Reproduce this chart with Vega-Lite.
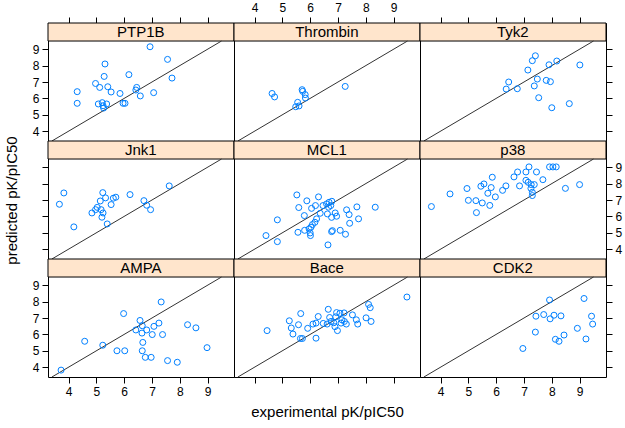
{
"$schema":"https://vega.github.io/schema/vega-lite/v6.json",
"background":"white",
"padding":{"left":3,"top":0,"right":3,"bottom":3},
"config":{"font":"Liberation Sans","view":{"stroke":"black","strokeWidth":1},
"axis":{"domain":false,"grid":false,"tickColor":"black","tickSize":6,"labelFont":"Liberation Sans","labelFontSize":12,"labelColor":"black","labelPadding":3,"titleFont":"Liberation Sans","titleFontSize":15,"titleFontWeight":"normal","titleColor":"black","labelFlush":false}},
"datasets":{"pts":[
{"panel":"PTP1B","exp":6.93,"pred":9.15},{"panel":"PTP1B","exp":7.56,"pred":8.38},{"panel":"PTP1B","exp":5.31,"pred":8.10},{"panel":"PTP1B","exp":7.72,"pred":7.24},{"panel":"PTP1B","exp":5.28,"pred":7.34},{"panel":"PTP1B","exp":6.17,"pred":7.45},{"panel":"PTP1B","exp":4.97,"pred":6.91},{"panel":"PTP1B","exp":5.12,"pred":6.67},{"panel":"PTP1B","exp":5.41,"pred":6.71},{"panel":"PTP1B","exp":5.53,"pred":6.39},{"panel":"PTP1B","exp":4.31,"pred":6.41},{"panel":"PTP1B","exp":5.85,"pred":6.30},{"panel":"PTP1B","exp":6.45,"pred":6.67},{"panel":"PTP1B","exp":6.42,"pred":6.51},{"panel":"PTP1B","exp":6.58,"pred":6.15},{"panel":"PTP1B","exp":7.06,"pred":6.35},{"panel":"PTP1B","exp":4.31,"pred":5.70},{"panel":"PTP1B","exp":5.07,"pred":5.66},{"panel":"PTP1B","exp":5.21,"pred":5.74},{"panel":"PTP1B","exp":5.37,"pred":5.66},{"panel":"PTP1B","exp":5.26,"pred":5.41},{"panel":"PTP1B","exp":5.96,"pred":5.70},{"panel":"PTP1B","exp":6.03,"pred":5.70},{"panel":"PTP1B","exp":5.24,"pred":5.55},
{"panel":"Thrombin","exp":4.63,"pred":6.30},{"panel":"Thrombin","exp":4.72,"pred":6.09},{"panel":"Thrombin","exp":5.71,"pred":6.53},{"panel":"Thrombin","exp":5.73,"pred":6.43},{"panel":"Thrombin","exp":5.82,"pred":6.23},{"panel":"Thrombin","exp":5.83,"pred":6.02},{"panel":"Thrombin","exp":5.55,"pred":5.76},{"panel":"Thrombin","exp":5.48,"pred":5.49},{"panel":"Thrombin","exp":5.60,"pred":5.54},{"panel":"Thrombin","exp":7.26,"pred":6.73},
{"panel":"Tyk2","exp":7.41,"pred":8.60},{"panel":"Tyk2","exp":7.30,"pred":8.30},{"panel":"Tyk2","exp":8.18,"pred":8.28},{"panel":"Tyk2","exp":7.90,"pred":8.05},{"panel":"Tyk2","exp":9.01,"pred":8.04},{"panel":"Tyk2","exp":7.14,"pred":7.73},{"panel":"Tyk2","exp":7.48,"pred":7.18},{"panel":"Tyk2","exp":7.80,"pred":7.10},{"panel":"Tyk2","exp":7.95,"pred":7.02},{"panel":"Tyk2","exp":6.45,"pred":7.00},{"panel":"Tyk2","exp":6.36,"pred":6.57},{"panel":"Tyk2","exp":6.76,"pred":6.59},{"panel":"Tyk2","exp":7.37,"pred":6.76},{"panel":"Tyk2","exp":7.53,"pred":6.04},{"panel":"Tyk2","exp":8.63,"pred":5.68},{"panel":"Tyk2","exp":8.00,"pred":5.43},
{"panel":"Jnk1","exp":7.62,"pred":7.86},{"panel":"Jnk1","exp":3.83,"pred":7.43},{"panel":"Jnk1","exp":3.67,"pred":6.74},{"panel":"Jnk1","exp":5.23,"pred":7.45},{"panel":"Jnk1","exp":5.33,"pred":7.13},{"panel":"Jnk1","exp":5.61,"pred":7.11},{"panel":"Jnk1","exp":5.70,"pred":7.17},{"panel":"Jnk1","exp":5.14,"pred":6.94},{"panel":"Jnk1","exp":6.21,"pred":7.33},{"panel":"Jnk1","exp":5.53,"pred":6.72},{"panel":"Jnk1","exp":5.03,"pred":6.55},{"panel":"Jnk1","exp":4.97,"pred":6.41},{"panel":"Jnk1","exp":4.84,"pred":6.21},{"panel":"Jnk1","exp":5.17,"pred":6.41},{"panel":"Jnk1","exp":5.24,"pred":6.21},{"panel":"Jnk1","exp":5.20,"pred":5.95},{"panel":"Jnk1","exp":5.39,"pred":5.54},{"panel":"Jnk1","exp":4.19,"pred":5.36},{"panel":"Jnk1","exp":6.71,"pred":6.96},{"panel":"Jnk1","exp":6.81,"pred":6.68},{"panel":"Jnk1","exp":6.95,"pred":6.41},
{"panel":"MCL1","exp":5.52,"pred":7.31},{"panel":"MCL1","exp":5.88,"pred":6.95},{"panel":"MCL1","exp":6.30,"pred":7.19},{"panel":"MCL1","exp":5.59,"pred":6.54},{"panel":"MCL1","exp":6.05,"pred":6.49},{"panel":"MCL1","exp":6.19,"pred":6.66},{"panel":"MCL1","exp":6.46,"pred":6.66},{"panel":"MCL1","exp":6.59,"pred":6.76},{"panel":"MCL1","exp":6.68,"pred":6.86},{"panel":"MCL1","exp":6.78,"pred":6.92},{"panel":"MCL1","exp":6.74,"pred":6.66},{"panel":"MCL1","exp":6.66,"pred":6.56},{"panel":"MCL1","exp":6.36,"pred":6.19},{"panel":"MCL1","exp":6.62,"pred":6.15},{"panel":"MCL1","exp":6.90,"pred":6.21},{"panel":"MCL1","exp":6.95,"pred":6.01},{"panel":"MCL1","exp":6.77,"pred":5.94},{"panel":"MCL1","exp":5.79,"pred":6.05},{"panel":"MCL1","exp":4.82,"pred":5.79},{"panel":"MCL1","exp":6.23,"pred":5.85},{"panel":"MCL1","exp":6.17,"pred":5.64},{"panel":"MCL1","exp":6.08,"pred":5.50},{"panel":"MCL1","exp":6.03,"pred":5.34},{"panel":"MCL1","exp":5.96,"pred":5.24},{"panel":"MCL1","exp":5.80,"pred":5.15},{"panel":"MCL1","exp":5.56,"pred":5.03},{"panel":"MCL1","exp":6.00,"pred":4.99},{"panel":"MCL1","exp":6.01,"pred":4.83},{"panel":"MCL1","exp":4.41,"pred":4.83},{"panel":"MCL1","exp":4.82,"pred":4.46},{"panel":"MCL1","exp":6.64,"pred":4.26},{"panel":"MCL1","exp":6.80,"pred":5.13},{"panel":"MCL1","exp":6.77,"pred":5.07},{"panel":"MCL1","exp":7.08,"pred":5.15},{"panel":"MCL1","exp":7.27,"pred":4.91},{"panel":"MCL1","exp":7.31,"pred":6.40},{"panel":"MCL1","exp":7.40,"pred":6.11},{"panel":"MCL1","exp":7.68,"pred":6.58},{"panel":"MCL1","exp":7.74,"pred":5.85},{"panel":"MCL1","exp":7.42,"pred":5.58},{"panel":"MCL1","exp":8.34,"pred":6.56},
{"panel":"p38","exp":3.67,"pred":6.60},{"panel":"p38","exp":4.34,"pred":7.37},{"panel":"p38","exp":4.95,"pred":7.70},{"panel":"p38","exp":5.00,"pred":6.98},{"panel":"p38","exp":5.27,"pred":6.96},{"panel":"p38","exp":5.29,"pred":6.23},{"panel":"p38","exp":5.50,"pred":6.82},{"panel":"p38","exp":5.77,"pred":6.67},{"panel":"p38","exp":5.45,"pred":7.84},{"panel":"p38","exp":5.56,"pred":7.98},{"panel":"p38","exp":5.82,"pred":7.76},{"panel":"p38","exp":5.86,"pred":8.39},{"panel":"p38","exp":5.70,"pred":7.41},{"panel":"p38","exp":5.97,"pred":7.19},{"panel":"p38","exp":6.23,"pred":7.59},{"panel":"p38","exp":6.35,"pred":7.86},{"panel":"p38","exp":6.64,"pred":8.41},{"panel":"p38","exp":6.77,"pred":8.71},{"panel":"p38","exp":6.84,"pred":7.86},{"panel":"p38","exp":7.07,"pred":8.71},{"panel":"p38","exp":7.18,"pred":9.02},{"panel":"p38","exp":7.07,"pred":8.20},{"panel":"p38","exp":7.15,"pred":8.08},{"panel":"p38","exp":7.26,"pred":7.94},{"panel":"p38","exp":7.37,"pred":7.94},{"panel":"p38","exp":7.25,"pred":7.71},{"panel":"p38","exp":7.30,"pred":7.47},{"panel":"p38","exp":7.30,"pred":7.27},{"panel":"p38","exp":7.45,"pred":8.71},{"panel":"p38","exp":7.68,"pred":8.24},{"panel":"p38","exp":7.92,"pred":9.02},{"panel":"p38","exp":8.04,"pred":9.02},{"panel":"p38","exp":8.16,"pred":9.02},{"panel":"p38","exp":8.49,"pred":7.71},{"panel":"p38","exp":9.00,"pred":7.94},
{"panel":"AMPA","exp":3.73,"pred":3.82},{"panel":"AMPA","exp":4.58,"pred":5.58},{"panel":"AMPA","exp":5.23,"pred":5.34},{"panel":"AMPA","exp":5.74,"pred":5.00},{"panel":"AMPA","exp":6.02,"pred":5.00},{"panel":"AMPA","exp":5.98,"pred":7.27},{"panel":"AMPA","exp":6.57,"pred":6.85},{"panel":"AMPA","exp":6.65,"pred":6.53},{"panel":"AMPA","exp":6.42,"pred":6.27},{"panel":"AMPA","exp":6.64,"pred":6.08},{"panel":"AMPA","exp":6.81,"pred":6.27},{"panel":"AMPA","exp":7.07,"pred":6.49},{"panel":"AMPA","exp":7.25,"pred":6.69},{"panel":"AMPA","exp":7.01,"pred":5.99},{"panel":"AMPA","exp":7.38,"pred":5.99},{"panel":"AMPA","exp":7.33,"pred":7.98},{"panel":"AMPA","exp":6.67,"pred":5.51},{"panel":"AMPA","exp":6.65,"pred":5.00},{"panel":"AMPA","exp":6.76,"pred":4.60},{"panel":"AMPA","exp":6.97,"pred":4.60},{"panel":"AMPA","exp":7.56,"pred":4.40},{"panel":"AMPA","exp":7.91,"pred":4.30},{"panel":"AMPA","exp":8.28,"pred":6.59},{"panel":"AMPA","exp":8.58,"pred":6.40},{"panel":"AMPA","exp":8.98,"pred":5.19},
{"panel":"Bace","exp":4.45,"pred":6.23},{"panel":"Bace","exp":5.25,"pred":6.83},{"panel":"Bace","exp":5.32,"pred":6.39},{"panel":"Bace","exp":5.38,"pred":6.02},{"panel":"Bace","exp":5.58,"pred":6.59},{"panel":"Bace","exp":5.66,"pred":7.27},{"panel":"Bace","exp":5.65,"pred":5.75},{"panel":"Bace","exp":5.72,"pred":5.75},{"panel":"Bace","exp":5.91,"pred":6.37},{"panel":"Bace","exp":6.10,"pred":6.63},{"panel":"Bace","exp":6.21,"pred":6.69},{"panel":"Bace","exp":6.29,"pred":7.09},{"panel":"Bace","exp":6.21,"pred":5.77},{"panel":"Bace","exp":6.47,"pred":6.67},{"panel":"Bace","exp":6.65,"pred":7.53},{"panel":"Bace","exp":6.61,"pred":6.63},{"panel":"Bace","exp":6.70,"pred":7.03},{"panel":"Bace","exp":6.75,"pred":6.79},{"panel":"Bace","exp":6.85,"pred":6.71},{"panel":"Bace","exp":6.89,"pred":6.47},{"panel":"Bace","exp":6.98,"pred":6.23},{"panel":"Bace","exp":6.95,"pred":7.33},{"panel":"Bace","exp":7.07,"pred":7.29},{"panel":"Bace","exp":6.92,"pred":7.07},{"panel":"Bace","exp":7.14,"pred":6.89},{"panel":"Bace","exp":7.22,"pred":7.31},{"panel":"Bace","exp":7.11,"pred":6.69},{"panel":"Bace","exp":7.23,"pred":6.79},{"panel":"Bace","exp":7.30,"pred":6.63},{"panel":"Bace","exp":7.52,"pred":7.19},{"panel":"Bace","exp":7.66,"pred":6.89},{"panel":"Bace","exp":7.71,"pred":6.63},{"panel":"Bace","exp":8.01,"pred":7.01},{"panel":"Bace","exp":8.10,"pred":7.83},{"panel":"Bace","exp":8.16,"pred":7.63},{"panel":"Bace","exp":8.19,"pred":6.79},{"panel":"Bace","exp":9.48,"pred":8.28},
{"panel":"CDK2","exp":7.92,"pred":8.10},{"panel":"CDK2","exp":9.16,"pred":8.19},{"panel":"CDK2","exp":7.43,"pred":7.11},{"panel":"CDK2","exp":7.71,"pred":7.21},{"panel":"CDK2","exp":7.94,"pred":6.95},{"panel":"CDK2","exp":8.08,"pred":7.17},{"panel":"CDK2","exp":8.33,"pred":7.13},{"panel":"CDK2","exp":9.43,"pred":7.11},{"panel":"CDK2","exp":9.47,"pred":6.63},{"panel":"CDK2","exp":7.41,"pred":6.14},{"panel":"CDK2","exp":8.92,"pred":6.37},{"panel":"CDK2","exp":8.44,"pred":5.96},{"panel":"CDK2","exp":8.13,"pred":5.70},{"panel":"CDK2","exp":8.26,"pred":5.58},{"panel":"CDK2","exp":9.23,"pred":5.72},{"panel":"CDK2","exp":6.96,"pred":5.14}
]},
"columns":3,"spacing":0,"bounds":"flush","align":"all",
"concat":[
{"width":186,"height":118,"data":{"values":[{"panel":"PTP1B"}]},"layer":[
{"mark":{"type":"rect","fill":"#ffe5cc","stroke":"black","strokeWidth":1},"encoding":{"x":{"datum":3.26,"type":"quantitative","scale":{"domain":[3.26,9.95],"nice":false,"zero":false},"axis":{"orient":"top","values":[4,5,6,7,8,9],"labels":false,"title":null}},"x2":{"datum":9.95},"y":{"datum":9.5,"type":"quantitative","scale":{"domain":[3.4,10.6],"nice":false,"zero":false},"axis":{"orient":"left","values":[4,5,6,7,8,9],"title":null}},"y2":{"datum":10.6}}},
{"mark":{"type":"text","fontSize":15,"color":"black","baseline":"middle","align":"center"},"encoding":{"x":{"datum":6.6,"type":"quantitative","scale":{"domain":[3.26,9.95],"nice":false,"zero":false},"axis":{"orient":"top","values":[4,5,6,7,8,9],"labels":false,"title":null}},"y":{"datum":10.05,"type":"quantitative","scale":{"domain":[3.4,10.6],"nice":false,"zero":false},"axis":{"orient":"left","values":[4,5,6,7,8,9],"title":null}},"text":{"field":"panel"}}},
{"mark":{"type":"rule","color":"#333333","strokeWidth":1},"encoding":{"x":{"datum":3.4,"type":"quantitative","scale":{"domain":[3.26,9.95],"nice":false,"zero":false},"axis":{"orient":"top","values":[4,5,6,7,8,9],"labels":false,"title":null}},"x2":{"datum":9.5},"y":{"datum":3.4,"type":"quantitative","scale":{"domain":[3.4,10.6],"nice":false,"zero":false},"axis":{"orient":"left","values":[4,5,6,7,8,9],"title":null}},"y2":{"datum":9.5}}},
{"data":{"name":"pts"},"transform":[{"filter":"datum.panel == 'PTP1B'"}],"mark":{"type":"point","shape":"circle","filled":false,"color":"#0080ff","size":36,"strokeWidth":1,"opacity":1},"encoding":{"x":{"field":"exp","type":"quantitative","scale":{"domain":[3.26,9.95],"nice":false,"zero":false},"axis":{"orient":"top","values":[4,5,6,7,8,9],"labels":false,"title":null}},"y":{"field":"pred","type":"quantitative","scale":{"domain":[3.4,10.6],"nice":false,"zero":false},"axis":{"orient":"left","values":[4,5,6,7,8,9],"title":null}}}}
]},
{"width":186,"height":118,"data":{"values":[{"panel":"Thrombin"}]},"layer":[
{"mark":{"type":"rect","fill":"#ffe5cc","stroke":"black","strokeWidth":1},"encoding":{"x":{"datum":3.26,"type":"quantitative","scale":{"domain":[3.26,9.95],"nice":false,"zero":false},"axis":{"orient":"top","values":[4,5,6,7,8,9],"title":null}},"x2":{"datum":9.95},"y":{"datum":9.5,"type":"quantitative","scale":{"domain":[3.4,10.6],"nice":false,"zero":false},"axis":null},"y2":{"datum":10.6}}},
{"mark":{"type":"text","fontSize":15,"color":"black","baseline":"middle","align":"center"},"encoding":{"x":{"datum":6.6,"type":"quantitative","scale":{"domain":[3.26,9.95],"nice":false,"zero":false},"axis":{"orient":"top","values":[4,5,6,7,8,9],"title":null}},"y":{"datum":10.05,"type":"quantitative","scale":{"domain":[3.4,10.6],"nice":false,"zero":false},"axis":null},"text":{"field":"panel"}}},
{"mark":{"type":"rule","color":"#333333","strokeWidth":1},"encoding":{"x":{"datum":3.4,"type":"quantitative","scale":{"domain":[3.26,9.95],"nice":false,"zero":false},"axis":{"orient":"top","values":[4,5,6,7,8,9],"title":null}},"x2":{"datum":9.5},"y":{"datum":3.4,"type":"quantitative","scale":{"domain":[3.4,10.6],"nice":false,"zero":false},"axis":null},"y2":{"datum":9.5}}},
{"data":{"name":"pts"},"transform":[{"filter":"datum.panel == 'Thrombin'"}],"mark":{"type":"point","shape":"circle","filled":false,"color":"#0080ff","size":36,"strokeWidth":1,"opacity":1},"encoding":{"x":{"field":"exp","type":"quantitative","scale":{"domain":[3.26,9.95],"nice":false,"zero":false},"axis":{"orient":"top","values":[4,5,6,7,8,9],"title":null}},"y":{"field":"pred","type":"quantitative","scale":{"domain":[3.4,10.6],"nice":false,"zero":false},"axis":null}}}
]},
{"width":186,"height":118,"data":{"values":[{"panel":"Tyk2"}]},"layer":[
{"mark":{"type":"rect","fill":"#ffe5cc","stroke":"black","strokeWidth":1},"encoding":{"x":{"datum":3.26,"type":"quantitative","scale":{"domain":[3.26,9.95],"nice":false,"zero":false},"axis":{"orient":"top","values":[4,5,6,7,8,9],"labels":false,"title":null}},"x2":{"datum":9.95},"y":{"datum":9.5,"type":"quantitative","scale":{"domain":[3.4,10.6],"nice":false,"zero":false},"axis":{"orient":"right","values":[4,5,6,7,8,9],"labels":false,"title":null}},"y2":{"datum":10.6}}},
{"mark":{"type":"text","fontSize":15,"color":"black","baseline":"middle","align":"center"},"encoding":{"x":{"datum":6.6,"type":"quantitative","scale":{"domain":[3.26,9.95],"nice":false,"zero":false},"axis":{"orient":"top","values":[4,5,6,7,8,9],"labels":false,"title":null}},"y":{"datum":10.05,"type":"quantitative","scale":{"domain":[3.4,10.6],"nice":false,"zero":false},"axis":{"orient":"right","values":[4,5,6,7,8,9],"labels":false,"title":null}},"text":{"field":"panel"}}},
{"mark":{"type":"rule","color":"#333333","strokeWidth":1},"encoding":{"x":{"datum":3.4,"type":"quantitative","scale":{"domain":[3.26,9.95],"nice":false,"zero":false},"axis":{"orient":"top","values":[4,5,6,7,8,9],"labels":false,"title":null}},"x2":{"datum":9.5},"y":{"datum":3.4,"type":"quantitative","scale":{"domain":[3.4,10.6],"nice":false,"zero":false},"axis":{"orient":"right","values":[4,5,6,7,8,9],"labels":false,"title":null}},"y2":{"datum":9.5}}},
{"data":{"name":"pts"},"transform":[{"filter":"datum.panel == 'Tyk2'"}],"mark":{"type":"point","shape":"circle","filled":false,"color":"#0080ff","size":36,"strokeWidth":1,"opacity":1},"encoding":{"x":{"field":"exp","type":"quantitative","scale":{"domain":[3.26,9.95],"nice":false,"zero":false},"axis":{"orient":"top","values":[4,5,6,7,8,9],"labels":false,"title":null}},"y":{"field":"pred","type":"quantitative","scale":{"domain":[3.4,10.6],"nice":false,"zero":false},"axis":{"orient":"right","values":[4,5,6,7,8,9],"labels":false,"title":null}}}}
]},
{"width":186,"height":118,"data":{"values":[{"panel":"Jnk1"}]},"layer":[
{"mark":{"type":"rect","fill":"#ffe5cc","stroke":"black","strokeWidth":1},"encoding":{"x":{"datum":3.26,"type":"quantitative","scale":{"domain":[3.26,9.95],"nice":false,"zero":false},"axis":null},"x2":{"datum":9.95},"y":{"datum":9.5,"type":"quantitative","scale":{"domain":[3.4,10.6],"nice":false,"zero":false},"axis":{"orient":"left","values":[4,5,6,7,8,9],"labels":false,"title":"predicted pK/pIC50","titlePadding":22}},"y2":{"datum":10.6}}},
{"mark":{"type":"text","fontSize":15,"color":"black","baseline":"middle","align":"center"},"encoding":{"x":{"datum":6.6,"type":"quantitative","scale":{"domain":[3.26,9.95],"nice":false,"zero":false},"axis":null},"y":{"datum":10.05,"type":"quantitative","scale":{"domain":[3.4,10.6],"nice":false,"zero":false},"axis":{"orient":"left","values":[4,5,6,7,8,9],"labels":false,"title":"predicted pK/pIC50","titlePadding":22}},"text":{"field":"panel"}}},
{"mark":{"type":"rule","color":"#333333","strokeWidth":1},"encoding":{"x":{"datum":3.4,"type":"quantitative","scale":{"domain":[3.26,9.95],"nice":false,"zero":false},"axis":null},"x2":{"datum":9.5},"y":{"datum":3.4,"type":"quantitative","scale":{"domain":[3.4,10.6],"nice":false,"zero":false},"axis":{"orient":"left","values":[4,5,6,7,8,9],"labels":false,"title":"predicted pK/pIC50","titlePadding":22}},"y2":{"datum":9.5}}},
{"data":{"name":"pts"},"transform":[{"filter":"datum.panel == 'Jnk1'"}],"mark":{"type":"point","shape":"circle","filled":false,"color":"#0080ff","size":36,"strokeWidth":1,"opacity":1},"encoding":{"x":{"field":"exp","type":"quantitative","scale":{"domain":[3.26,9.95],"nice":false,"zero":false},"axis":null},"y":{"field":"pred","type":"quantitative","scale":{"domain":[3.4,10.6],"nice":false,"zero":false},"axis":{"orient":"left","values":[4,5,6,7,8,9],"labels":false,"title":"predicted pK/pIC50","titlePadding":22}}}}
]},
{"width":186,"height":118,"data":{"values":[{"panel":"MCL1"}]},"layer":[
{"mark":{"type":"rect","fill":"#ffe5cc","stroke":"black","strokeWidth":1},"encoding":{"x":{"datum":3.26,"type":"quantitative","scale":{"domain":[3.26,9.95],"nice":false,"zero":false},"axis":null},"x2":{"datum":9.95},"y":{"datum":9.5,"type":"quantitative","scale":{"domain":[3.4,10.6],"nice":false,"zero":false},"axis":null},"y2":{"datum":10.6}}},
{"mark":{"type":"text","fontSize":15,"color":"black","baseline":"middle","align":"center"},"encoding":{"x":{"datum":6.6,"type":"quantitative","scale":{"domain":[3.26,9.95],"nice":false,"zero":false},"axis":null},"y":{"datum":10.05,"type":"quantitative","scale":{"domain":[3.4,10.6],"nice":false,"zero":false},"axis":null},"text":{"field":"panel"}}},
{"mark":{"type":"rule","color":"#333333","strokeWidth":1},"encoding":{"x":{"datum":3.4,"type":"quantitative","scale":{"domain":[3.26,9.95],"nice":false,"zero":false},"axis":null},"x2":{"datum":9.5},"y":{"datum":3.4,"type":"quantitative","scale":{"domain":[3.4,10.6],"nice":false,"zero":false},"axis":null},"y2":{"datum":9.5}}},
{"data":{"name":"pts"},"transform":[{"filter":"datum.panel == 'MCL1'"}],"mark":{"type":"point","shape":"circle","filled":false,"color":"#0080ff","size":36,"strokeWidth":1,"opacity":1},"encoding":{"x":{"field":"exp","type":"quantitative","scale":{"domain":[3.26,9.95],"nice":false,"zero":false},"axis":null},"y":{"field":"pred","type":"quantitative","scale":{"domain":[3.4,10.6],"nice":false,"zero":false},"axis":null}}}
]},
{"width":186,"height":118,"data":{"values":[{"panel":"p38"}]},"layer":[
{"mark":{"type":"rect","fill":"#ffe5cc","stroke":"black","strokeWidth":1},"encoding":{"x":{"datum":3.26,"type":"quantitative","scale":{"domain":[3.26,9.95],"nice":false,"zero":false},"axis":null},"x2":{"datum":9.95},"y":{"datum":9.5,"type":"quantitative","scale":{"domain":[3.4,10.6],"nice":false,"zero":false},"axis":{"orient":"right","values":[4,5,6,7,8,9],"title":null}},"y2":{"datum":10.6}}},
{"mark":{"type":"text","fontSize":15,"color":"black","baseline":"middle","align":"center"},"encoding":{"x":{"datum":6.6,"type":"quantitative","scale":{"domain":[3.26,9.95],"nice":false,"zero":false},"axis":null},"y":{"datum":10.05,"type":"quantitative","scale":{"domain":[3.4,10.6],"nice":false,"zero":false},"axis":{"orient":"right","values":[4,5,6,7,8,9],"title":null}},"text":{"field":"panel"}}},
{"mark":{"type":"rule","color":"#333333","strokeWidth":1},"encoding":{"x":{"datum":3.4,"type":"quantitative","scale":{"domain":[3.26,9.95],"nice":false,"zero":false},"axis":null},"x2":{"datum":9.5},"y":{"datum":3.4,"type":"quantitative","scale":{"domain":[3.4,10.6],"nice":false,"zero":false},"axis":{"orient":"right","values":[4,5,6,7,8,9],"title":null}},"y2":{"datum":9.5}}},
{"data":{"name":"pts"},"transform":[{"filter":"datum.panel == 'p38'"}],"mark":{"type":"point","shape":"circle","filled":false,"color":"#0080ff","size":36,"strokeWidth":1,"opacity":1},"encoding":{"x":{"field":"exp","type":"quantitative","scale":{"domain":[3.26,9.95],"nice":false,"zero":false},"axis":null},"y":{"field":"pred","type":"quantitative","scale":{"domain":[3.4,10.6],"nice":false,"zero":false},"axis":{"orient":"right","values":[4,5,6,7,8,9],"title":null}}}}
]},
{"width":186,"height":118,"data":{"values":[{"panel":"AMPA"}]},"layer":[
{"mark":{"type":"rect","fill":"#ffe5cc","stroke":"black","strokeWidth":1},"encoding":{"x":{"datum":3.26,"type":"quantitative","scale":{"domain":[3.26,9.95],"nice":false,"zero":false},"axis":{"orient":"bottom","values":[4,5,6,7,8,9],"title":null}},"x2":{"datum":9.95},"y":{"datum":9.5,"type":"quantitative","scale":{"domain":[3.4,10.6],"nice":false,"zero":false},"axis":{"orient":"left","values":[4,5,6,7,8,9],"title":null}},"y2":{"datum":10.6}}},
{"mark":{"type":"text","fontSize":15,"color":"black","baseline":"middle","align":"center"},"encoding":{"x":{"datum":6.6,"type":"quantitative","scale":{"domain":[3.26,9.95],"nice":false,"zero":false},"axis":{"orient":"bottom","values":[4,5,6,7,8,9],"title":null}},"y":{"datum":10.05,"type":"quantitative","scale":{"domain":[3.4,10.6],"nice":false,"zero":false},"axis":{"orient":"left","values":[4,5,6,7,8,9],"title":null}},"text":{"field":"panel"}}},
{"mark":{"type":"rule","color":"#333333","strokeWidth":1},"encoding":{"x":{"datum":3.4,"type":"quantitative","scale":{"domain":[3.26,9.95],"nice":false,"zero":false},"axis":{"orient":"bottom","values":[4,5,6,7,8,9],"title":null}},"x2":{"datum":9.5},"y":{"datum":3.4,"type":"quantitative","scale":{"domain":[3.4,10.6],"nice":false,"zero":false},"axis":{"orient":"left","values":[4,5,6,7,8,9],"title":null}},"y2":{"datum":9.5}}},
{"data":{"name":"pts"},"transform":[{"filter":"datum.panel == 'AMPA'"}],"mark":{"type":"point","shape":"circle","filled":false,"color":"#0080ff","size":36,"strokeWidth":1,"opacity":1},"encoding":{"x":{"field":"exp","type":"quantitative","scale":{"domain":[3.26,9.95],"nice":false,"zero":false},"axis":{"orient":"bottom","values":[4,5,6,7,8,9],"title":null}},"y":{"field":"pred","type":"quantitative","scale":{"domain":[3.4,10.6],"nice":false,"zero":false},"axis":{"orient":"left","values":[4,5,6,7,8,9],"title":null}}}}
]},
{"width":186,"height":118,"data":{"values":[{"panel":"Bace"}]},"layer":[
{"mark":{"type":"rect","fill":"#ffe5cc","stroke":"black","strokeWidth":1},"encoding":{"x":{"datum":3.26,"type":"quantitative","scale":{"domain":[3.26,9.95],"nice":false,"zero":false},"axis":{"orient":"bottom","values":[4,5,6,7,8,9],"labels":false,"title":"experimental pK/pIC50","titlePadding":21}},"x2":{"datum":9.95},"y":{"datum":9.5,"type":"quantitative","scale":{"domain":[3.4,10.6],"nice":false,"zero":false},"axis":null},"y2":{"datum":10.6}}},
{"mark":{"type":"text","fontSize":15,"color":"black","baseline":"middle","align":"center"},"encoding":{"x":{"datum":6.6,"type":"quantitative","scale":{"domain":[3.26,9.95],"nice":false,"zero":false},"axis":{"orient":"bottom","values":[4,5,6,7,8,9],"labels":false,"title":"experimental pK/pIC50","titlePadding":21}},"y":{"datum":10.05,"type":"quantitative","scale":{"domain":[3.4,10.6],"nice":false,"zero":false},"axis":null},"text":{"field":"panel"}}},
{"mark":{"type":"rule","color":"#333333","strokeWidth":1},"encoding":{"x":{"datum":3.4,"type":"quantitative","scale":{"domain":[3.26,9.95],"nice":false,"zero":false},"axis":{"orient":"bottom","values":[4,5,6,7,8,9],"labels":false,"title":"experimental pK/pIC50","titlePadding":21}},"x2":{"datum":9.5},"y":{"datum":3.4,"type":"quantitative","scale":{"domain":[3.4,10.6],"nice":false,"zero":false},"axis":null},"y2":{"datum":9.5}}},
{"data":{"name":"pts"},"transform":[{"filter":"datum.panel == 'Bace'"}],"mark":{"type":"point","shape":"circle","filled":false,"color":"#0080ff","size":36,"strokeWidth":1,"opacity":1},"encoding":{"x":{"field":"exp","type":"quantitative","scale":{"domain":[3.26,9.95],"nice":false,"zero":false},"axis":{"orient":"bottom","values":[4,5,6,7,8,9],"labels":false,"title":"experimental pK/pIC50","titlePadding":21}},"y":{"field":"pred","type":"quantitative","scale":{"domain":[3.4,10.6],"nice":false,"zero":false},"axis":null}}}
]},
{"width":186,"height":118,"data":{"values":[{"panel":"CDK2"}]},"layer":[
{"mark":{"type":"rect","fill":"#ffe5cc","stroke":"black","strokeWidth":1},"encoding":{"x":{"datum":3.26,"type":"quantitative","scale":{"domain":[3.26,9.95],"nice":false,"zero":false},"axis":{"orient":"bottom","values":[4,5,6,7,8,9],"title":null}},"x2":{"datum":9.95},"y":{"datum":9.5,"type":"quantitative","scale":{"domain":[3.4,10.6],"nice":false,"zero":false},"axis":{"orient":"right","values":[4,5,6,7,8,9],"labels":false,"title":null}},"y2":{"datum":10.6}}},
{"mark":{"type":"text","fontSize":15,"color":"black","baseline":"middle","align":"center"},"encoding":{"x":{"datum":6.6,"type":"quantitative","scale":{"domain":[3.26,9.95],"nice":false,"zero":false},"axis":{"orient":"bottom","values":[4,5,6,7,8,9],"title":null}},"y":{"datum":10.05,"type":"quantitative","scale":{"domain":[3.4,10.6],"nice":false,"zero":false},"axis":{"orient":"right","values":[4,5,6,7,8,9],"labels":false,"title":null}},"text":{"field":"panel"}}},
{"mark":{"type":"rule","color":"#333333","strokeWidth":1},"encoding":{"x":{"datum":3.4,"type":"quantitative","scale":{"domain":[3.26,9.95],"nice":false,"zero":false},"axis":{"orient":"bottom","values":[4,5,6,7,8,9],"title":null}},"x2":{"datum":9.5},"y":{"datum":3.4,"type":"quantitative","scale":{"domain":[3.4,10.6],"nice":false,"zero":false},"axis":{"orient":"right","values":[4,5,6,7,8,9],"labels":false,"title":null}},"y2":{"datum":9.5}}},
{"data":{"name":"pts"},"transform":[{"filter":"datum.panel == 'CDK2'"}],"mark":{"type":"point","shape":"circle","filled":false,"color":"#0080ff","size":36,"strokeWidth":1,"opacity":1},"encoding":{"x":{"field":"exp","type":"quantitative","scale":{"domain":[3.26,9.95],"nice":false,"zero":false},"axis":{"orient":"bottom","values":[4,5,6,7,8,9],"title":null}},"y":{"field":"pred","type":"quantitative","scale":{"domain":[3.4,10.6],"nice":false,"zero":false},"axis":{"orient":"right","values":[4,5,6,7,8,9],"labels":false,"title":null}}}}
]}
]
}
